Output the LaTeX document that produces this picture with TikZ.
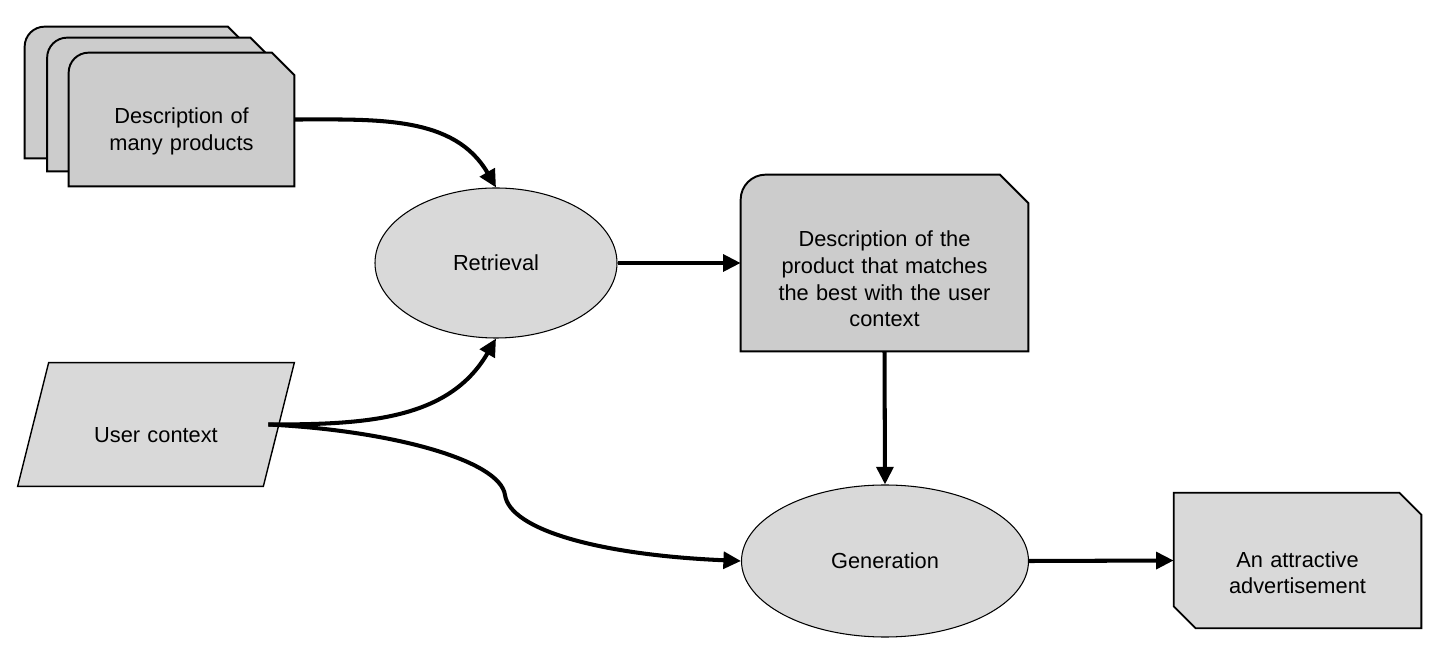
\documentclass[tikz,border=0pt]{standalone}
\usepackage{fontspec}
\setmainfont{Liberation Sans}
\usetikzlibrary{arrows.meta,shapes.geometric,backgrounds}

\definecolor{sheetgray}{HTML}{CCCCCC}
\definecolor{softgray}{HTML}{D9D9D9}

\tikzset{
  flow/.style={line width=2.3pt, -{Triangle[length=10pt,width=9.5pt]}},
  box/.style={inner sep=0pt, align=center, text width=#1, minimum width=#1},
  textdrop/.style={execute at begin node={\rule{0pt}{#1}}},
  sheet/.style={draw, line width=1.1pt, fill=sheetgray},
  card/.style={draw, line width=1pt, fill=softgray},
  proc/.style={ellipse, draw, line width=0.6pt, fill=softgray, inner sep=0pt},
}

\begin{document}
\begin{tikzpicture}[font=\fontsize{12.4}{15.2}\selectfont]
        \useasboundingbox (0,0) rectangle (28.96,13.08);

        \node[box=4.5cm, minimum height=2.62cm] (docc) at (2.75,11.23) {};
        \node[box=4.5cm, minimum height=2.66cm] (docb) at (3.20,10.99) {};
        \node[box=4.5cm, minimum height=2.66cm, textdrop=0.78cm] (docs) at (3.63,10.69)
            {Description of\\ many products};

        \node[proc, minimum width=4.84cm, minimum height=3cm] (retr) at (9.92,7.82) {Retrieval};

        \node[box=5.74cm, minimum height=3.52cm, textdrop=0.96cm] (best) at (17.69,7.82)
            {Description of the\\ product that matches\\ the best with the user\\ context};

        \node[box=5.52cm, minimum height=2.46cm, textdrop=0.72cm] (uc) at (3.12,4.59) {User context};
        \coordinate (ucout) at ([xshift=-0.52cm]uc.east);
        \coordinate (bend) at (10.10,3.18);

        \node[proc, minimum width=5.74cm, minimum height=3.04cm] (gen) at (17.70,1.86) {Generation};

        \node[box=4.94cm, minimum height=2.7cm, textdrop=0.80cm] (ad) at (25.95,1.87)
            {An attractive\\ advertisement};

        \begin{scope}[on background layer]
        \foreach \n in {docc,docb,docs}
            \draw[sheet] (\n.south west) -- ([yshift=-0.4cm]\n.north west)
                arc[start angle=180, end angle=90, radius=0.4cm]
                -- ([xshift=-0.45cm]\n.north east) -- ([yshift=-0.45cm]\n.north east)
                -- (\n.south east) -- cycle;
        \draw[sheet] (best.south west) -- ([yshift=-0.5cm]best.north west)
            arc[start angle=180, end angle=90, radius=0.5cm]
            -- ([xshift=-0.57cm]best.north east) -- ([yshift=-0.57cm]best.north east)
            -- (best.south east) -- cycle;
        \draw[card] ([yshift=0.44cm]ad.south west) -- (ad.north west)
            -- ([xshift=-0.44cm]ad.north east) -- ([yshift=-0.44cm]ad.north east)
            -- (ad.south east) -- ([xshift=0.44cm]ad.south west) -- cycle;
        \draw[card, line width=0.8pt] ([xshift=0.62cm]uc.north west) -- (uc.north east)
            -- ([xshift=-0.62cm]uc.south east) -- (uc.south west) -- cycle;
        \end{scope}

        \draw[flow] (docs.east) to[out=0, in=120] (retr.north);
        \draw[flow] (retr.east) -- (best.west);
        \draw[flow] (best.south) -- (gen.north);
        \draw[flow] (ucout) to[out=0, in=-120] (retr.south);
        \draw[flow] (ucout) .. controls +(2.44,-0.12) and +(-0.1,0.7) .. (bend)
            .. controls +(0.1,-0.7) and +(-2.82,0.12) .. (gen.west);
        \draw[flow] (gen.east) -- (ad.west);
\end{tikzpicture}
\end{document}
